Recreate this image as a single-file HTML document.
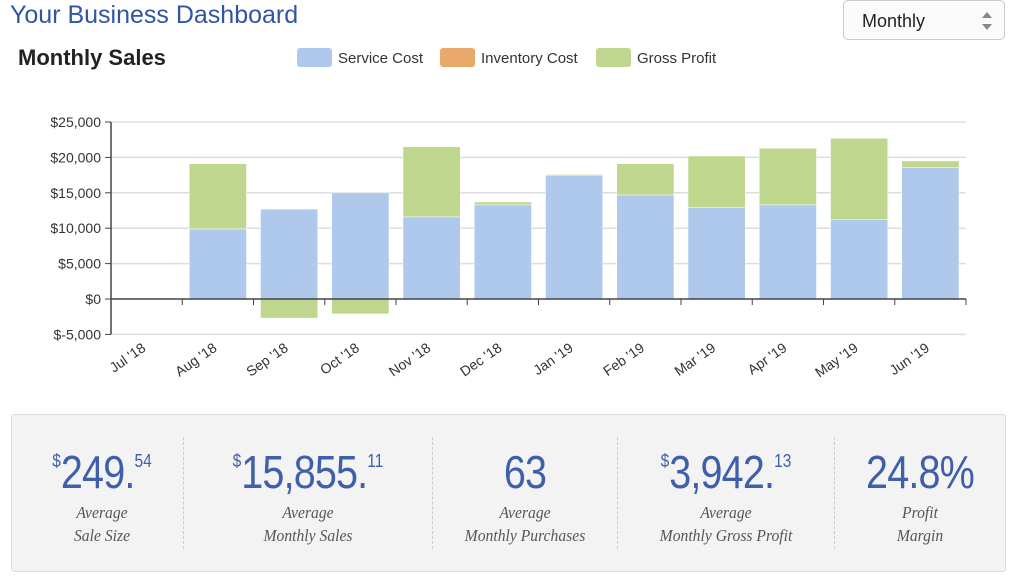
<!DOCTYPE html>
<html><head><meta charset="utf-8">
<style>
body{margin:0;width:1024px;height:581px;background:#fff;font-family:"Liberation Sans",sans-serif;position:relative;overflow:hidden}
.title{position:absolute;left:10px;top:1px;font-size:25px;color:#2f55a4}
.sel{position:absolute;left:843px;top:0px;width:162px;height:40px;border:1px solid #ccc;border-radius:5px;box-sizing:border-box;font-size:18px;line-height:40px;padding-left:18px;color:#222;background:#fafafa}
.sel:after{content:"";position:absolute;right:12px;top:11px;border:5px solid transparent;border-bottom:6px solid #888;border-top:none}
.sel:before{content:"";position:absolute;right:12px;top:23px;border:5px solid transparent;border-top:6px solid #888;border-bottom:none}
.stats{position:absolute;left:11px;top:414px;width:995px;height:158px;background:#f3f3f3;border:1px solid #ddd;border-radius:3px;box-sizing:border-box}
.stat{position:absolute;top:0;height:158px;text-align:center;color:#3f5fab}
.big{font-size:46px;margin-top:30px;font-weight:normal;transform:scaleX(0.86);letter-spacing:-1px;-webkit-text-stroke:0}
.big sup{font-size:18px;vertical-align:top;position:relative;top:6px;letter-spacing:0}
.lab{font-family:"Liberation Serif",serif;font-style:italic;color:#555;font-size:17px;line-height:23px;margin-top:2px;transform:scaleX(0.92)}
.div{position:absolute;top:22px;height:112px;border-left:1px dashed #ccc}
</style></head><body>
<div class="title">Your Business Dashboard</div>
<div class="sel">Monthly</div>
<svg id="chart" width="1024" height="400" style="position:absolute;left:0;top:0">
<text x="18" y="65" font-size="22" font-weight="bold" fill="#222">Monthly Sales</text>
<g font-size="15" fill="#333">
<rect x="297" y="48" width="35" height="19" rx="3" fill="#aec9ec"/><text x="338" y="63">Service Cost</text>
<rect x="440" y="48" width="35" height="19" rx="3" fill="#e8a96b"/><text x="481" y="63">Inventory Cost</text>
<rect x="596" y="48" width="35" height="19" rx="3" fill="#bfd68f"/><text x="637" y="63">Gross Profit</text>
</g>
<g id="plot"></g>
</svg>
<div class="stats">
<div class="stat" style="left:10px;width:160px"><div class="big"><sup>$</sup>249.<sup>54</sup></div><div class="lab">Average<br>Sale Size</div></div>
<div class="div" style="left:171px"></div>
<div class="stat" style="left:172px;width:248px"><div class="big"><sup>$</sup>15,855.<sup>11</sup></div><div class="lab">Average<br>Monthly Sales</div></div>
<div class="div" style="left:420px"></div>
<div class="stat" style="left:421px;width:184px"><div class="big">63</div><div class="lab">Average<br>Monthly Purchases</div></div>
<div class="div" style="left:605px"></div>
<div class="stat" style="left:606px;width:216px"><div class="big"><sup>$</sup>3,942.<sup>13</sup></div><div class="lab">Average<br>Monthly Gross Profit</div></div>
<div class="div" style="left:822px"></div>
<div class="stat" style="left:823px;width:170px"><div class="big">24.8%</div><div class="lab">Profit<br>Margin</div></div>
</div>
<script>
const months=["Jul '18","Aug '18","Sep '18","Oct '18","Nov '18","Dec '18","Jan '19","Feb '19","Mar '19","Apr '19","May '19","Jun '19"];
const serviceCost=[0,9900,12700,15000,11600,13300,17500,14700,12900,13300,11200,18600];
const inventoryCost=[0,0,0,0,0,0,0,0,0,0,0,0];
const grossProfit=[0,9200,-2700,-2100,9900,400,100,4400,7300,8000,11500,900];
const yTicks=[-5000,0,5000,10000,15000,20000,25000];
const yTickLabels=["$-5,000","$0","$5,000","$10,000","$15,000","$20,000","$25,000"];
const NS="http://www.w3.org/2000/svg";
const g=document.getElementById('plot');
const x0=111,x1=966,bw=(x1-x0)/months.length;
const y=v=>299-v*177/25000;
function mk(t,a){const e=document.createElementNS(NS,t);for(const k in a)e.setAttribute(k,a[k]);g.appendChild(e);return e;}
yTicks.forEach((v,i)=>{
  if(v!==0){const l=mk('line',{x1:x0,x2:x1,y1:y(v),y2:y(v),stroke:'#ddd','stroke-width':1.5});
  
  }
  mk('line',{x1:x0-6,x2:x0,y1:y(v),y2:y(v),stroke:'#444'});
  const t=mk('text',{x:x0-10,y:y(v)+5,'text-anchor':'end','font-size':14,fill:'#333'});
  t.textContent=yTickLabels[i];
  
  
});
mk('line',{x1:x0,x2:x0,y1:y(25000),y2:y(-5000),stroke:'#444','stroke-width':1.5});
const colors=["#aec9ec","#e8a96b","#bfd68f"];
months.forEach((m,i)=>{
  const bx=x0+i*bw+7,w=bw-14;
  let pos=0,neg=0;
  [serviceCost[i],inventoryCost[i],grossProfit[i]].forEach((v,k)=>{
    if(!v)return;
    let top,bot;
    if(v>0){top=y(pos+v);bot=y(pos);pos+=v;}else{top=y(neg);bot=y(neg+v);neg+=v;}
    const r=mk('rect',{x:bx,y:top,width:w,height:bot-top,fill:colors[k],stroke:'#fff','stroke-width':0.5});
    
    
  });
  const cx=x0+(i+0.5)*bw;
  mk('line',{x1:x0+(i+1)*bw,x2:x0+(i+1)*bw,y1:y(0),y2:y(0)+6,stroke:'#444'});
  const t=mk('text',{x:cx,y:350,'text-anchor':'end','font-size':14,fill:'#333',transform:`rotate(-35 ${cx} 350)`});
  t.textContent=m;
  
  
});
mk('line',{x1:x0,x2:x1,y1:y(0),y2:y(0),stroke:'#444','stroke-width':1.5});
</script>
</body></html>
